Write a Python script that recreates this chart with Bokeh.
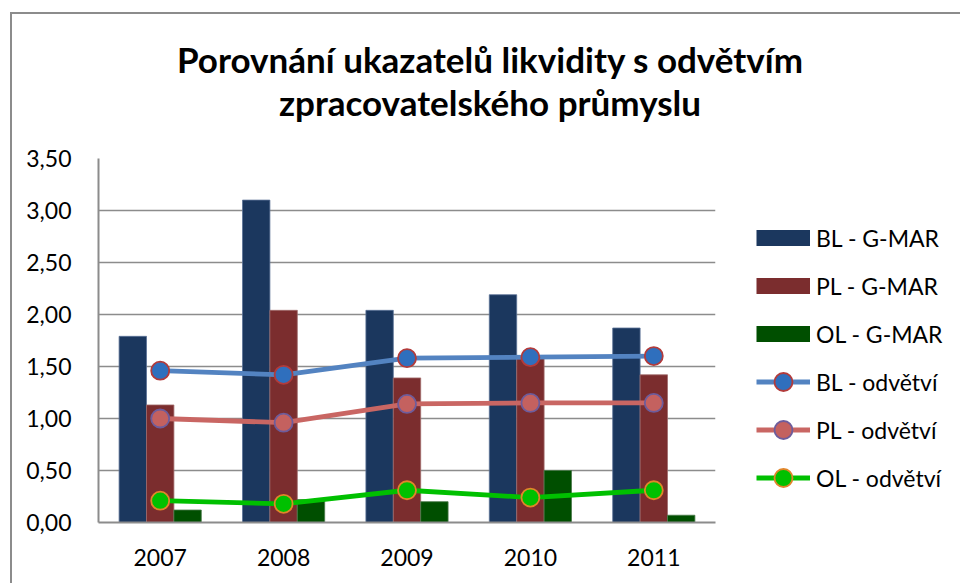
from bokeh.plotting import figure
from bokeh.models import (FactorRange, Range1d, Legend, LegendItem, FixedTicker, Div)
from bokeh.layouts import column
from bokeh.transform import dodge
from bokeh.embed import file_html
from bokeh.resources import INLINE

# ---- data ----
years = ["2007", "2008", "2009", "2010", "2011"]
bl_gmar = [1.79, 3.10, 2.04, 2.19, 1.87]
pl_gmar = [1.13, 2.04, 1.39, 1.59, 1.42]
ol_gmar = [0.12, 0.22, 0.20, 0.50, 0.07]
bl_odv = [1.46, 1.42, 1.58, 1.59, 1.60]
pl_odv = [1.00, 0.96, 1.14, 1.15, 1.15]
ol_odv = [0.21, 0.18, 0.31, 0.24, 0.31]
y_ticks = [0.0, 0.5, 1.0, 1.5, 2.0, 2.5, 3.0, 3.5]
y_tick_labels = ["0,00", "0,50", "1,00", "1,50", "2,00", "2,50", "3,00", "3,50"]
series_names = ["BL - G-MAR", "PL - G-MAR", "OL - G-MAR",
                "BL - odvětví", "PL - odvětví", "OL - odvětví"]
title_lines = ["Porovnání ukazatelů likvidity s odvětvím", "zpracovatelského průmyslu"]

FONT = "Lato"
GRID = "#8c8c8c"
BAR_COLORS = ["#1b375e", "#7b2d2e", "#004f00"]
BAR_EDGES = ["#5a7196", "#a06a6a", "#4a7a4a"]

p = figure(x_range=FactorRange(*years), y_range=Range1d(0, 3.5),
           frame_width=617, frame_height=364,
           min_border_left=88, min_border_right=245,
           min_border_top=26, min_border_bottom=61,
           output_backend="svg", toolbar_location=None, margin=0)
p.outline_line_color = None
p.background_fill_color = "white"
p.border_fill_color = None

data = dict(years=years, bl_gmar=bl_gmar, pl_gmar=pl_gmar, ol_gmar=ol_gmar,
            bl_odv=bl_odv, pl_odv=pl_odv, ol_odv=ol_odv)

bw = 0.222
r1 = p.vbar(x=dodge("years", -0.222, range=p.x_range), top="bl_gmar", width=bw, source=data,
            fill_color=BAR_COLORS[0], line_color=BAR_EDGES[0], line_width=0.8)
r2 = p.vbar(x=dodge("years", 0.0, range=p.x_range), top="pl_gmar", width=bw, source=data,
            fill_color=BAR_COLORS[1], line_color=BAR_EDGES[1], line_width=0.8)
r3 = p.vbar(x=dodge("years", 0.222, range=p.x_range), top="ol_gmar", width=bw, source=data,
            fill_color=BAR_COLORS[2], line_color=BAR_EDGES[2], line_width=0.8)

l1 = p.line(x="years", y="bl_odv", source=data, line_color="#5383c1", line_width=4.8)
m1 = p.scatter(x="years", y="bl_odv", source=data, size=18, marker="circle",
               fill_color="#2f6fbd", line_color="#b23b3b", line_width=1.8)
l2 = p.line(x="years", y="pl_odv", source=data, line_color="#c96663", line_width=4.8)
m2 = p.scatter(x="years", y="pl_odv", source=data, size=18, marker="circle",
               fill_color="#c4615f", line_color="#6d5c9c", line_width=1.8)
l3 = p.line(x="years", y="ol_odv", source=data, line_color="#00c000", line_width=4.8)
m3 = p.scatter(x="years", y="ol_odv", source=data, size=18, marker="circle",
               fill_color="#00c000", line_color="#e0852a", line_width=1.8)

# legend proxies for the bar series (thick butt-capped lines -> rectangles);
# a single NaN point draws nothing in the plot
proxies = [p.line(x=[years[0]], y=[float("nan")], line_color=c, line_width=16,
                  line_cap="butt")
           for c in BAR_COLORS]

# axes
p.yaxis.ticker = FixedTicker(ticks=y_ticks)
p.yaxis.major_label_overrides = {t: s for t, s in zip(y_ticks, y_tick_labels)}
for ax in (p.xaxis, p.yaxis):
    ax.axis_line_color = GRID
    ax.axis_line_width = 2
    ax.major_tick_line_color = None
    ax.minor_tick_line_color = None
    ax.major_label_text_font = FONT
    ax.major_label_text_font_size = "23px"
    ax.major_label_text_color = "black"
p.yaxis.major_label_standoff = 21
p.xaxis.major_label_standoff = 20
p.xgrid.grid_line_color = None
p.ygrid.grid_line_color = GRID
p.ygrid.grid_line_width = 1.5

items = [LegendItem(label=series_names[0], renderers=[proxies[0]]),
         LegendItem(label=series_names[1], renderers=[proxies[1]]),
         LegendItem(label=series_names[2], renderers=[proxies[2]]),
         LegendItem(label=series_names[3], renderers=[l1, m1]),
         LegendItem(label=series_names[4], renderers=[l2, m2]),
         LegendItem(label=series_names[5], renderers=[l3, m3])]
legend = Legend(items=items, location=(41, 22))
legend.border_line_color = None
legend.background_fill_alpha = 0
legend.margin = 0
legend.padding = 0
legend.glyph_width = 54
legend.glyph_height = 45
legend.label_height = 20
legend.spacing = 3
legend.label_standoff = 6
legend.label_text_font = FONT
legend.label_text_font_size = "23px"
legend.label_text_color = "black"
p.add_layout(legend, "right")

# title
title_html = (
    '<div style="box-sizing:border-box;width:950px;padding-top:26px;padding-left:10px;'
    'text-align:center;font-family:Lato;font-weight:bold;font-size:35px;'
    'line-height:43px;color:black;">'
    + title_lines[0] + "<br>" + title_lines[1] + "</div>"
)
title_div = Div(text=title_html, width=950, height=120, margin=0)

layout = column(title_div, p, margin=(12, 0, 0, 10),
                styles={"background-color": "white",
                        "box-shadow": "inset 2px 2px 0 0 #8c8c8c"})

open("out.html", "w").write(file_html(layout, INLINE))
